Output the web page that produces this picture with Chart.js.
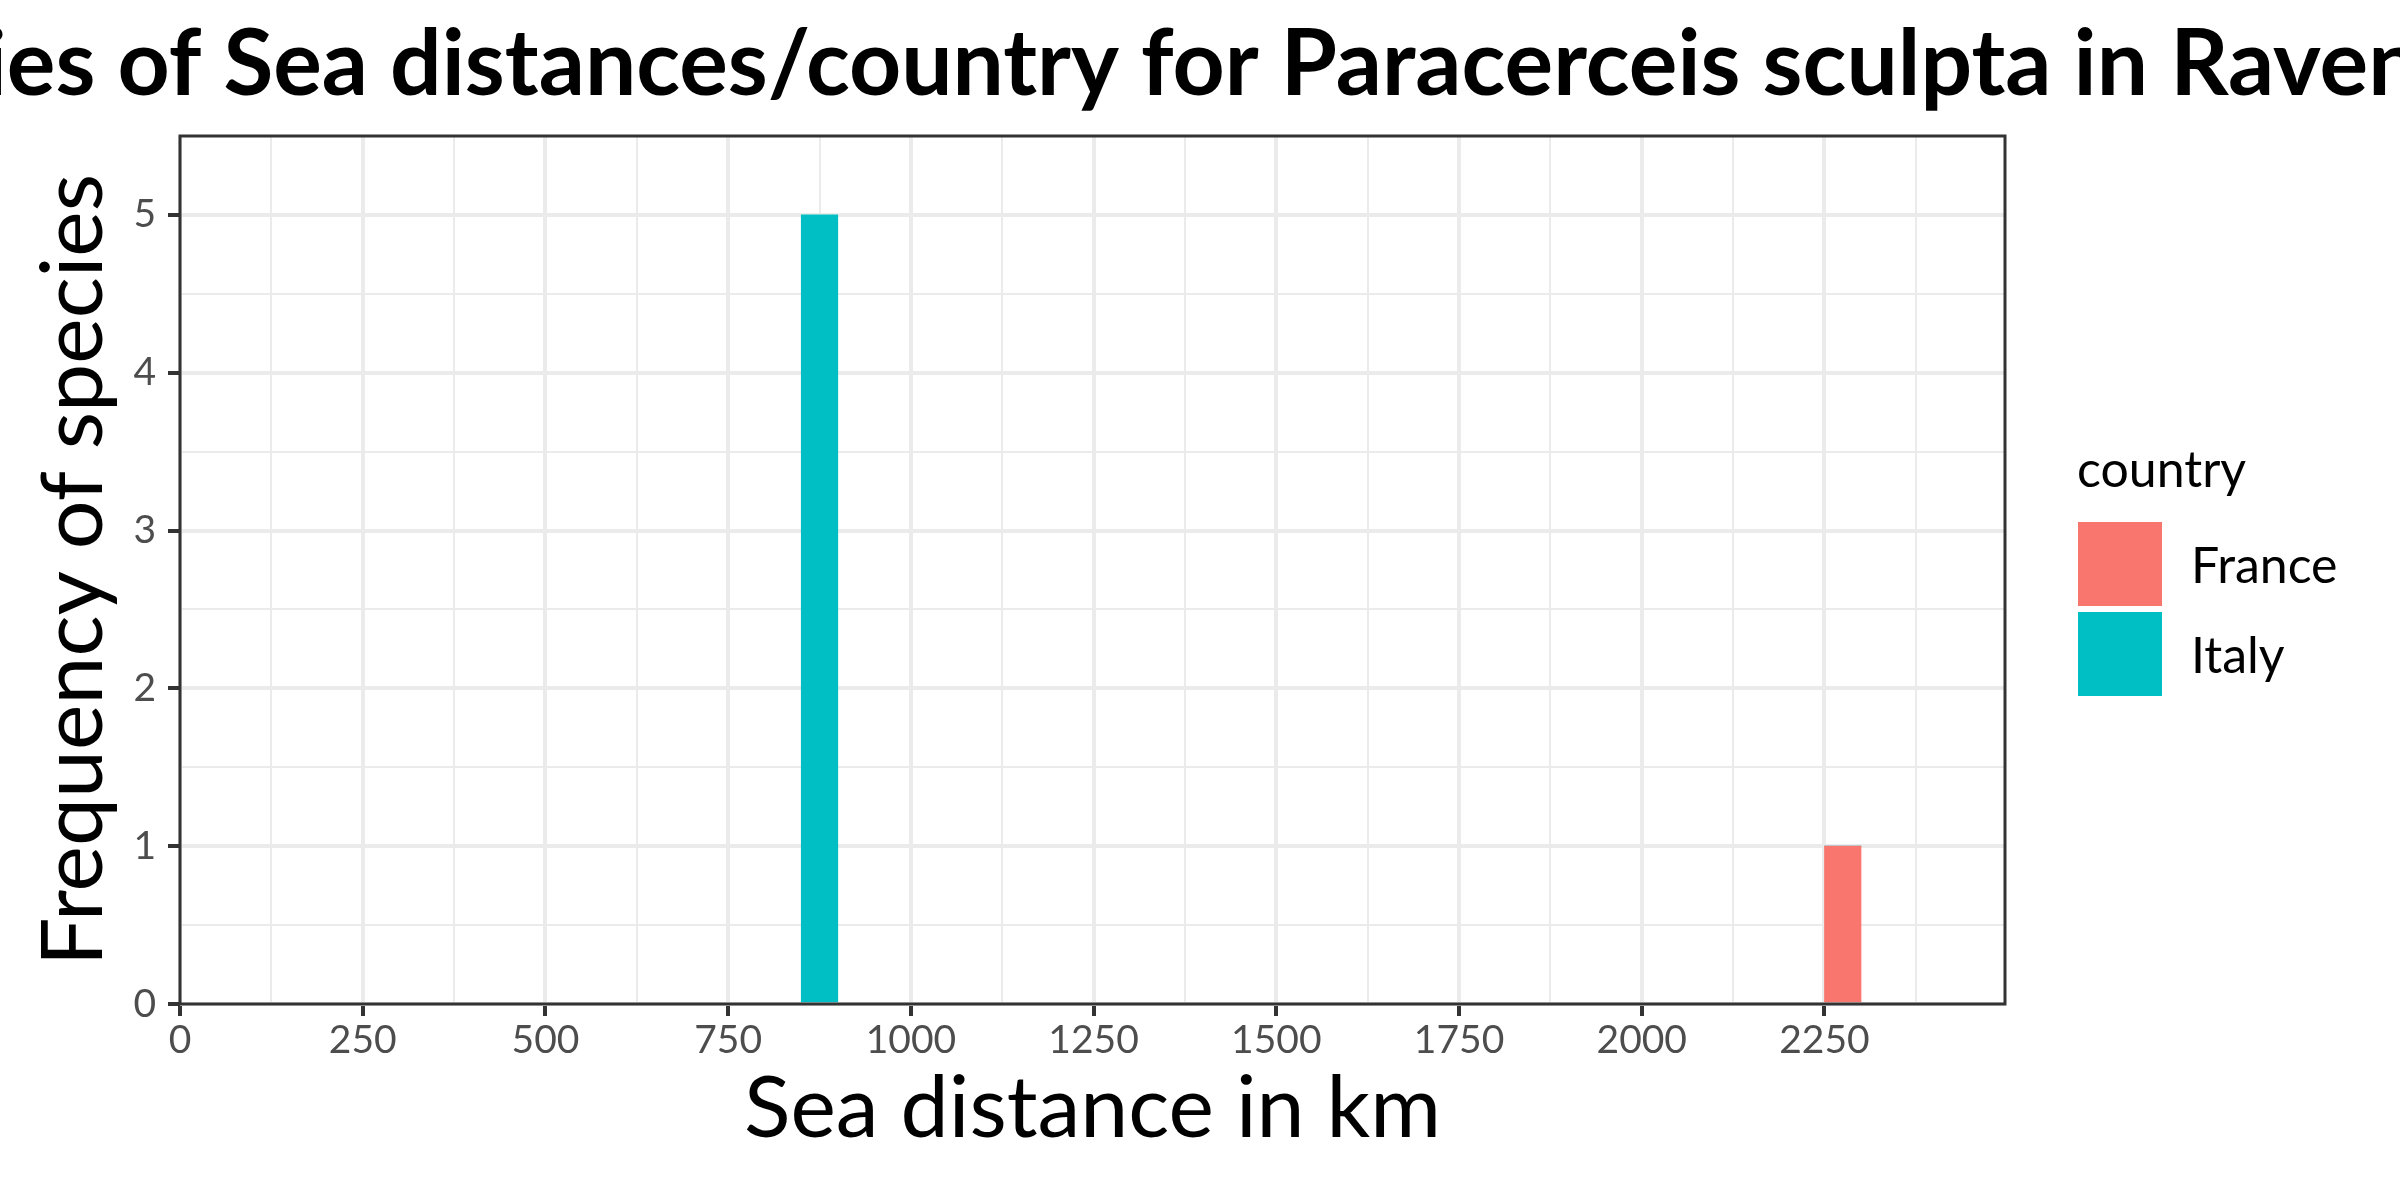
<!DOCTYPE html>
<html><head><meta charset="utf-8">
<script src="https://cdn.jsdelivr.net/npm/chart.js@4"></script>
<style>html,body{margin:0;padding:0;background:#fff;overflow:hidden}</style>
</head><body>
<canvas id="c" width="2400" height="1200"></canvas>
<script>
const chartTitle = 'Frequencies of Sea distances/country for Paracerceis sculpta in Ravenna';
const xTitle = 'Sea distance in km';
const yTitle = 'Frequency of species';
const legendTitle = 'country';
const countries = ['France', 'Italy'];
const countryColors = ['#F8766D', '#00BFC4'];
const binCenters = [875, 925, 975, 1025, 1075, 1125, 1175, 1225, 1275, 1325, 1375, 1425, 1475, 1525, 1575, 1625, 1675, 1725, 1775, 1825, 1875, 1925, 1975, 2025, 2075, 2125, 2175, 2225, 2275];
const franceCounts = [0, 0, 0, 0, 0, 0, 0, 0, 0, 0, 0, 0, 0, 0, 0, 0, 0, 0, 0, 0, 0, 0, 0, 0, 0, 0, 0, 0, 1];
const italyCounts = [5, 0, 0, 0, 0, 0, 0, 0, 0, 0, 0, 0, 0, 0, 0, 0, 0, 0, 0, 0, 0, 0, 0, 0, 0, 0, 0, 0, 0];
const xTickLabels = [0, 250, 500, 750, 1000, 1250, 1500, 1750, 2000, 2250];
const xMinorTicks = [125, 375, 625, 875, 1125, 1375, 1625, 1875, 2125, 2375];
const yTickLabels = [0, 1, 2, 3, 4, 5];

const FONT = 'Lato';
const seriesCounts = [franceCounts, italyCounts];

const datasets = countries.map((name, i) => ({
  label: name,
  data: binCenters.map((x, j) => ({x: x, y: seriesCounts[i][j]})),
  backgroundColor: countryColors[i],
  borderWidth: 0,
  categoryPercentage: 1.0,
  barPercentage: 1.0
}));

const near = (list, v) => list.some(t => Math.abs(t - v) < 1e-6);
const tv = c => (c && c.tick) ? c.tick.value : NaN;
const isMajorX = v => near(xTickLabels, Number(v));
const isMajorY = v => near(yTickLabels, Number(v));

const decor = {
  id: 'decor',
  beforeDraw(chart) {
    const ctx = chart.ctx;
    ctx.save();
    ctx.fillStyle = '#ffffff';
    ctx.fillRect(0, 0, chart.width, chart.height);
    ctx.restore();
  },
  afterDatasetsDraw(chart) {
    const {ctx, chartArea: a} = chart;
    ctx.save();
    ctx.strokeStyle = '#333333';
    ctx.lineWidth = 3;
    ctx.strokeRect(a.left, a.top, a.right - a.left, a.bottom - a.top);
    ctx.restore();
  },
  afterDraw(chart) {
    const {ctx, chartArea: a} = chart;
    ctx.save();
    ctx.fillStyle = '#000000';
    ctx.font = 'bold 91px ' + FONT;
    ctx.textAlign = 'center';
    ctx.textBaseline = 'alphabetic';
    ctx.fillText(chartTitle, (a.left + a.right) / 2 - 30, 95);
    const kx = a.right + 73;
    ctx.textAlign = 'left';
    ctx.font = '50px ' + FONT;
    ctx.fillText(legendTitle, kx - 1, 487);
    chart.data.datasets.forEach((ds, i) => {
      const ky = 522 + i * 90;
      ctx.fillStyle = ds.backgroundColor;
      ctx.fillRect(kx, ky, 84, 84);
      ctx.fillStyle = '#000000';
      ctx.fillText(ds.label, kx + 113, ky + 61);
    });
    ctx.restore();
  }
};

new Chart(document.getElementById('c'), {
  type: 'bar',
  data: {datasets},
  plugins: [decor],
  options: {
    responsive: false,
    devicePixelRatio: 1,
    animation: false,
    layout: {padding: {top: 136, right: 395, left: 0, bottom: 0}},
    plugins: {legend: {display: false}, title: {display: false}, tooltip: {enabled: false}},
    scales: {
      x: {
        type: 'linear', min: 0, max: 2497, stacked: true, offset: false,
        border: {display: false},
        grid: {
          offset: false,
          color: '#EBEBEB',
          lineWidth: c => isMajorX(tv(c)) ? 4 : 2,
          drawTicks: true, tickLength: 12,
          tickColor: c => isMajorX(tv(c)) ? '#333333' : 'rgba(0,0,0,0)',
          tickWidth: 4
        },
        afterBuildTicks: s => {
          s.ticks = xTickLabels.concat(xMinorTicks).sort((p, q) => p - q).map(v => ({value: v}));
        },
        ticks: {
          autoSkip: false, maxRotation: 0, minRotation: 0,
          color: '#4D4D4D', font: {family: FONT, size: 39}, padding: 1,
          callback: function(v, i, ticks) { const val = (ticks && ticks[i]) ? ticks[i].value : v; return isMajorX(val) ? String(Math.round(val)) : ''; }
        },
        title: {display: true, text: xTitle, color: '#000000', font: {family: FONT, size: 86}, padding: {top: 0, bottom: 39}},
        afterFit: s => { s.height = 196; }
      },
      y: {
        type: 'linear', min: 0, max: 5.5, stacked: true,
        border: {display: false},
        grid: {
          color: '#EBEBEB',
          lineWidth: c => isMajorY(tv(c)) ? 4 : 2,
          drawTicks: true, tickLength: 12,
          tickColor: c => isMajorY(tv(c)) ? '#333333' : 'rgba(0,0,0,0)',
          tickWidth: 4
        },
        ticks: {
          stepSize: 0.5, autoSkip: false,
          color: '#4D4D4D', font: {family: FONT, size: 39}, padding: 12,
          callback: v => isMajorY(v) ? String(v) : ''
        },
        title: {display: true, text: yTitle, color: '#000000', font: {family: FONT, size: 86}, padding: {top: 23, bottom: 0}},
        afterFit: s => { s.width = 180; }
      }
    }
  }
});
</script>
</body></html>
